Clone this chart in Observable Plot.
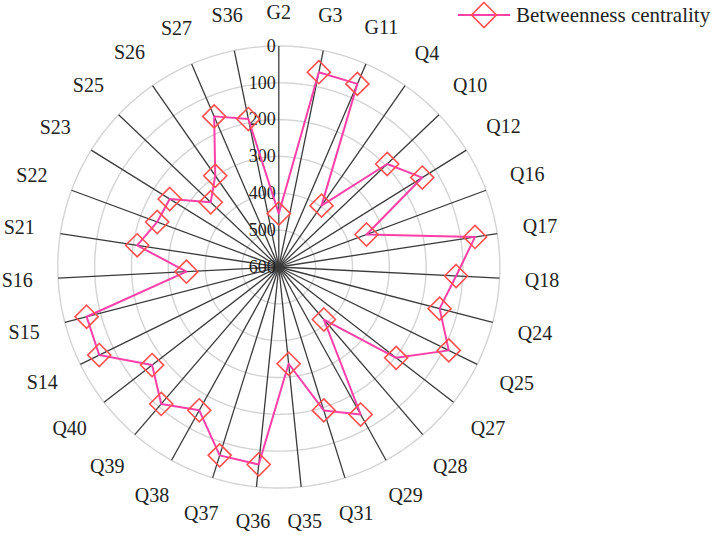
<!DOCTYPE html>
<html>
<head>
<meta charset="utf-8">
<script src="https://cdn.jsdelivr.net/npm/d3@7"></script>
<script src="https://cdn.jsdelivr.net/npm/@observablehq/plot@0.6"></script>
<style>
  html, body { margin: 0; padding: 0; background: #fff; }
  #wrap { position: relative; width: 720px; height: 536px; font-family: "Liberation Serif", "Times New Roman", serif; }
  #legend { position: absolute; left: 458px; top: 0px; height: 30px; display: flex; align-items: center; font-size: 21px; color: #222; white-space: nowrap; }
  #legend svg { margin-right: 6px; }
</style>
</head>
<body>
<div id="wrap">
  <div id="chart"></div>
  <div id="legend"></div>
</div>
<script>
// ---- data ----
const categories = ["G2","G3","G11","Q4","Q10","Q12","Q16","Q17","Q18","Q24","Q25","Q27","Q28","Q29","Q31","Q35","Q36","Q37","Q38","Q39","Q40","S14","S15","S16","S21","S22","S23","S25","S26","S27","S36"];
const values = [455,60,59,397,194,141,346,61,118,149,86,197,412,142,192,336,61,64,155,110,165,57,61,349,211,248,251,345,298,155,190];
const ringTicks = [0,100,200,300,400,500,600];
const seriesName = "Betweenness centrality";

// ---- layout ----
const W = 720, H = 536;
const cx = 278.3, cy = 266.5, R = 221;
const lineColor = "#ff3fa8", markColor = "#ff4f4f";
const font = "Liberation Serif";

const rMax = 600;
const N = categories.length;
const ang = i => 2 * Math.PI * i / N;
const rad = v => (rMax - v) / rMax;           // 0 at outer ring, 600 at centre

const data = categories.map((c, i) => ({cat: c, value: values[i], i}));
const px = d => rad(d.value) * Math.sin(ang(d.i));
const py = d => rad(d.value) * Math.cos(ang(d.i));
const closed = [...data, data[0]];

// ring geometry
const ringPts = [];
for (const t of ringTicks.filter(t => t < rMax)) {
  for (let k = 0; k <= 360; k++) {
    const a = k * Math.PI / 180;
    ringPts.push({t, x: rad(t) * Math.sin(a), y: rad(t) * Math.cos(a)});
  }
}

// label placement (text box outside outer ring)
const ctx = document.createElement("canvas").getContext("2d");
ctx.font = `20px "${font}"`;
const labelPos = categories.map((c, i) => {
  const a = ang(i);
  const hw = ctx.measureText(c).width / 2, hh = 8;
  const dist = (246 + Math.abs(Math.sin(a)) * hw + Math.abs(Math.cos(a)) * hh) / R;
  return {cat: c, x: dist * Math.sin(a), y: dist * Math.cos(a)};
});

const chart = Plot.plot({
  width: W, height: H,
  marginLeft: cx - R, marginRight: W - cx - R,
  marginTop: cy - R, marginBottom: H - cy - R,
  x: {domain: [-1, 1], axis: null},
  y: {domain: [-1, 1], axis: null},
  style: {fontFamily: font, background: "white"},
  marks: [
    Plot.line(ringPts, {x: "x", y: "y", z: "t", stroke: "#d4d4d4", strokeWidth: 1.4}),
    Plot.link(data, {x1: 0, y1: 0, x2: d => Math.sin(ang(d.i)), y2: d => Math.cos(ang(d.i)), stroke: "#3a3a3a", strokeWidth: 1.3}),
    Plot.text(ringTicks, {x: 0, y: t => rad(t), text: t => String(t), textAnchor: "end", dx: -3, fontSize: 18, fill: "#222", fontFamily: font}),
    Plot.line(closed, {x: px, y: py, stroke: lineColor, strokeWidth: 2, curve: "linear"}),
    Plot.dot(data, {x: px, y: py, symbol: "diamond2", r: 10.4, stroke: markColor, strokeWidth: 1.6, fill: "none"}),
    Plot.text(labelPos, {x: "x", y: "y", text: "cat", textAnchor: "middle", lineAnchor: "middle", fontSize: 20, fill: "#222", fontFamily: font})
  ]
});
document.getElementById("chart").appendChild(chart);

// legend
const lg = document.getElementById("legend");
lg.innerHTML = `<svg width="52" height="30" viewBox="0 0 52 30">
  <line x1="0" y1="15" x2="52" y2="15" stroke="${lineColor}" stroke-width="2"/>
  <path d="M26,2.5 L38.5,15 L26,27.5 L13.5,15 Z" fill="none" stroke="${markColor}" stroke-width="1.6"/>
</svg><span>${seriesName}</span>`;
</script>
</body>
</html>
